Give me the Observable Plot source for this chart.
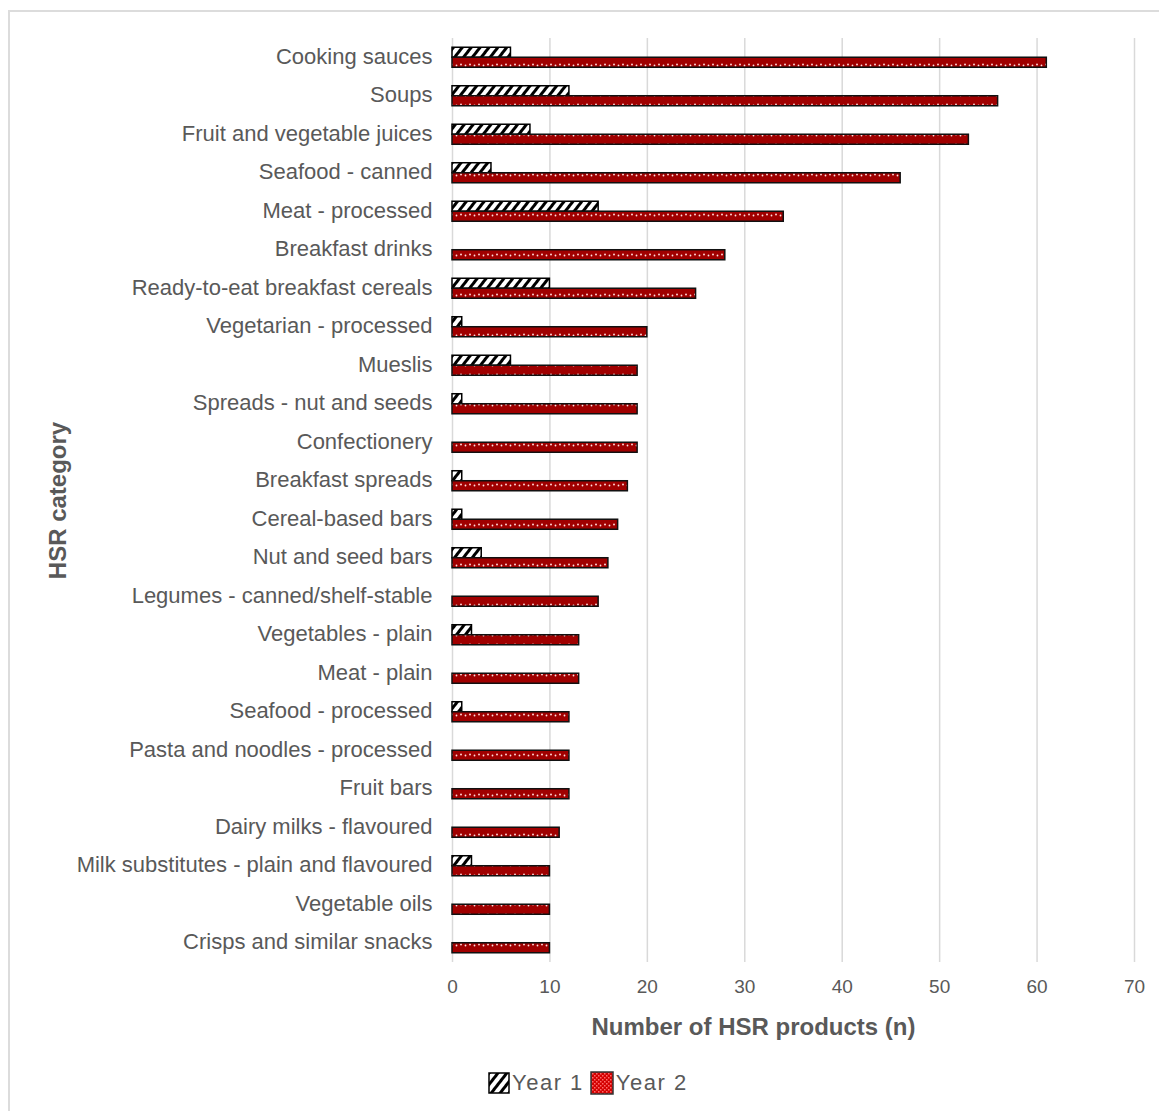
<!DOCTYPE html>
<html>
<head>
<meta charset="utf-8">
<script src="https://cdn.jsdelivr.net/npm/d3@7"></script>
<script src="https://cdn.jsdelivr.net/npm/@observablehq/plot@0.6"></script>
<style>
  html, body { margin: 0; padding: 0; background: #fff; }
  #wrap { position: relative; width: 1159px; height: 1111px; overflow: hidden; font-family: "Liberation Sans", Arial, sans-serif; }
  #frame { position: absolute; left: 8px; top: 10px; width: 1170px; height: 1120px; border: 2px solid #dcdcdc; box-sizing: border-box; }
  #chart { position: absolute; left: 0; top: 0; }
  #legend { position: absolute; top: 1070px; left: 488px; display: flex; align-items: center; color: #595959; font-size: 22px; letter-spacing: 1.5px; }
  #legend .item { display: flex; align-items: center; }
  #legend svg { display: block; }
  #defs { position: absolute; width: 0; height: 0; }
</style>
</head>
<body>
<svg id="defs" width="0" height="0">
  <defs>
    <pattern id="pYear1" patternUnits="userSpaceOnUse" width="7" height="7" patternTransform="rotate(38)">
      <rect width="7" height="7" fill="#ffffff"></rect>
      <rect x="0" y="0" width="3" height="7" fill="#000000"></rect>
    </pattern>
    <pattern id="pYear2" patternUnits="userSpaceOnUse" width="9" height="10">
      <rect width="9" height="10" fill="#a00000"></rect>
      <circle cx="2" cy="4.5" r="1" fill="#ffd0d0"></circle>
      <circle cx="6.5" cy="5.5" r="0.9" fill="#ffe0e0"></circle>
    </pattern>
    <pattern id="pYear2L" patternUnits="userSpaceOnUse" width="4" height="4">
      <rect width="4" height="4" fill="#d40000"></rect>
      <rect x="0" y="0" width="1.5" height="1.5" fill="#ff6a6a"></rect>
      <rect x="2" y="2" width="1.5" height="1.5" fill="#ff6a6a"></rect>
    </pattern>
  </defs>
</svg>
<div id="wrap">
  <div id="frame"></div>
  <div id="chart"></div>
  <div id="legend">
    <div class="item">
      <svg width="22" height="22"><rect x="1" y="1" width="20" height="20" fill="url(#pYear1)" stroke="#000" stroke-width="1.5"></rect></svg>
      <span style="margin-left:2px">Year 1</span>
    </div>
    <div class="item" style="margin-left:6px">
      <svg width="24" height="24"><rect x="1" y="1" width="22" height="22" fill="url(#pYear2L)" stroke="#333" stroke-width="1.5"></rect></svg>
      <span style="margin-left:2px">Year 2</span>
    </div>
  </div>
</div>
<script>
const categories = [
  "Cooking sauces",
  "Soups",
  "Fruit and vegetable juices",
  "Seafood - canned",
  "Meat - processed",
  "Breakfast drinks",
  "Ready-to-eat breakfast cereals",
  "Vegetarian - processed",
  "Mueslis",
  "Spreads - nut and seeds",
  "Confectionery",
  "Breakfast spreads",
  "Cereal-based bars",
  "Nut and seed bars",
  "Legumes - canned/shelf-stable",
  "Vegetables - plain",
  "Meat - plain",
  "Seafood - processed",
  "Pasta and noodles - processed",
  "Fruit bars",
  "Dairy milks - flavoured",
  "Milk substitutes - plain and flavoured",
  "Vegetable oils",
  "Crisps and similar snacks"
];
const year1 = [6, 12, 8, 4, 15, 0, 10, 1, 6, 1, 0, 1, 1, 3, 0, 2, 0, 1, 0, 0, 0, 2, 0, 0];
const year2 = [61, 56, 53, 46, 34, 28, 25, 20, 19, 19, 19, 18, 17, 16, 15, 13, 13, 12, 12, 12, 11, 10, 10, 10];
const xTicks = [0, 10, 20, 30, 40, 50, 60, 70];
const xTitle = "Number of HSR products (n)";
const yTitle = "HSR category";

const rows1 = categories.map((c, i) => ({category: c, value: year1[i]})).filter(d => d.value > 0);
const rows2 = categories.map((c, i) => ({category: c, value: year2[i]}));

const chart = Plot.plot({
  width: 1159,
  height: 1050,
  marginLeft: 452,
  marginRight: 25,
  marginTop: 38,
  marginBottom: 88,
  style: {fontFamily: "'Liberation Sans', Arial, sans-serif", color: "#595959", background: "transparent"},
  x: {domain: [0, 70], round: false},
  y: {domain: categories, paddingInner: 0.48, paddingOuter: 0.24, round: false},
  marks: [
    Plot.gridX(xTicks, {stroke: "#d9d9d9", strokeOpacity: 1, strokeWidth: 1.5}),
    Plot.axisX(xTicks, {tickSize: 0, tickPadding: 17, fontSize: 19, label: null, fill: "#595959"}),
    Plot.axisY({tickSize: 0, tickPadding: 20, fontSize: 22, label: null, fill: "#595959", dy: -1}),
    Plot.barX(rows1, {x: "value", y: "category", fill: "url(#pYear1)", stroke: "#000", strokeWidth: 1.5, insetBottom: 10}),
    Plot.barX(rows2, {x: "value", y: "category", fill: "url(#pYear2)", stroke: "#111", strokeWidth: 1.5, insetTop: 10}),
    Plot.text([xTitle], {text: d => d, frameAnchor: "bottom", dy: 72, dx: -40, fontSize: 24, fontWeight: "bold", fill: "#595959"}),
    Plot.text([yTitle], {text: d => d, frameAnchor: "left", textAnchor: "middle", dx: -394, rotate: -90, fontSize: 24, fontWeight: "bold", fill: "#595959"})
  ]
});
document.getElementById("chart").appendChild(chart);
</script>
</body>
</html>
